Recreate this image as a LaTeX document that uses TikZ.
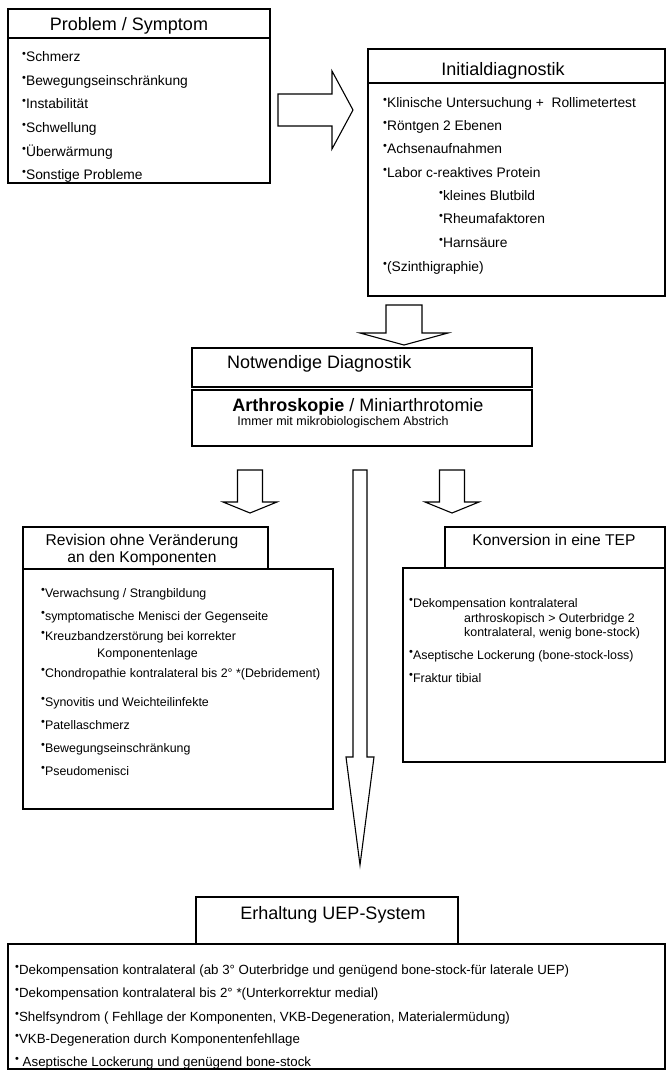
\documentclass[tikz,border=0pt]{standalone}
\usepackage{fontspec}
\setmainfont{Liberation Sans}
\newcommand{\bu}{\raisebox{.28em}{\fontsize{11}{11}\selectfont •}}
\begin{document}
\begin{tikzpicture}[x=1pt,y=-1pt,
 box/.style={draw, line width=1.1pt, anchor=north west, inner sep=0pt, outer sep=0pt},
 barrow/.style={draw, line width=1.1pt, fill=white, line join=miter},
 ttl/.style={inner sep=0pt, anchor=base, font=\fontsize{18}{20}\selectfont},
 subt/.style={inner sep=0pt, anchor=base, font=\fontsize{15.6}{17}\selectfont},
 li/.style={inner sep=0pt, anchor=base west, font=\fontsize{13.8}{15}\selectfont},
 ls/.style={inner sep=0pt, anchor=base west, font=\fontsize{12.4}{14}\selectfont},
 lb/.style={inner sep=0pt, anchor=base west, font=\fontsize{13.3}{15}\selectfont}]
\useasboundingbox (0,0) rectangle (666,1071);

% ---- Problem / Symptom
\node[box, minimum width=262pt, minimum height=29pt] (probh) at (8,9) {};
\node[box, minimum width=262pt, minimum height=145pt] (probb) at (8,38) {};
\node[ttl] (probt) at (129,30) {Problem / Symptom};
\node[li] (p1) at (22,61.5) {\bu Schmerz};
\node[li] (p2) at (22,85.5) {\bu Bewegungseinschränkung};
\node[li] (p3) at (22,108.5) {\bu Instabilität};
\node[li] (p4) at (22,132.5) {\bu Schwellung};
\node[li] (p5) at (22,156.5) {\bu Überwärmung};
\node[li] (p6) at (22,179.5) {\bu Sonstige Probleme};

% ---- arrow right
\draw[barrow] (278,94) -- (332,94) -- (332,71) -- (353,110) -- (332,149) -- (332,126) -- (278,126) -- cycle;

% ---- Initialdiagnostik
\node[box, minimum width=297pt, minimum height=34pt] (inih) at (368,49) {};
\node[box, minimum width=297pt, minimum height=213pt] (inib) at (368,83) {};
\node[ttl] (init) at (503,75) {Initialdiagnostik};
\node[li] (i1) at (383,107.5) {\bu Klinische Untersuchung +\ \ Rollimetertest};
\node[li] (i2) at (383,130.5) {\bu Röntgen 2 Ebenen};
\node[li] (i3) at (383,153.5) {\bu Achsenaufnahmen};
\node[li] (i4) at (383,177.5) {\bu Labor c-reaktives Protein};
\node[li] (i5) at (439,200.5) {\bu kleines Blutbild};
\node[li] (i6) at (439,223.5) {\bu Rheumafaktoren};
\node[li] (i7) at (439,247.5) {\bu Harnsäure};
\node[li] (i8) at (383,271.5) {\bu (Szinthigraphie)};

% ---- arrow down 1
\draw[barrow] (386,305) -- (422,305) -- (422,333) -- (448,333) -- (404,345) -- (360,333) -- (386,333) -- cycle;

% ---- Notwendige Diagnostik
\node[box, minimum width=340pt, minimum height=39pt] (noth) at (192,348) {};
\node[box, minimum width=340pt, minimum height=56pt] (notb) at (192,390) {};
\node[inner sep=0pt, anchor=base west, font=\fontsize{18}{20}\selectfont] (nott) at (227,368) {Notwendige Diagnostik};
\node[ttl] (arth) at (358,411) {\textbf{Arthroskopie} / Miniarthrotomie};
\node[inner sep=0pt, anchor=base, font=\fontsize{12.5}{14}\selectfont] (imm) at (343,425) {Immer mit mikrobiologischem Abstrich};

% ---- arrows down 2
\draw[barrow] (237.5,470) -- (262.5,470) -- (262.5,502) -- (277,502) -- (250,513) -- (223,502) -- (237.5,502) -- cycle;
\draw[barrow] (439.5,470) -- (464.5,470) -- (464.5,502) -- (479,502) -- (452,513) -- (425,502) -- (439.5,502) -- cycle;
\draw[barrow] (353,470) -- (367,470) -- (367,757) -- (374,757) -- (360,865) -- (346,757) -- (353,757) -- cycle;

% ---- Revision
\node[box, minimum width=245pt, minimum height=42pt] (revh) at (23,527) {};
\node[box, minimum width=310pt, minimum height=240pt] (revb) at (23,569) {};
\node[subt] (revt1) at (142,545.5) {Revision ohne Veränderung};
\node[subt] (revt2) at (142,562.5) {an den Komponenten};
\node[ls] (r1) at (41,597) {\bu Verwachsung / Strangbildung};
\node[ls] (r2) at (41,620) {\bu symptomatische Menisci der Gegenseite};
\node[ls] (r3) at (41,640) {\bu Kreuzbandzerstörung bei korrekter};
\node[ls] (r3b) at (97,657) {Komponentenlage};
\node[ls] (r4) at (41,677) {\bu Chondropathie kontralateral bis 2° *(Debridement)};
\node[ls] (r5) at (41,706) {\bu Synovitis und Weichteilinfekte};
\node[ls] (r6) at (41,729) {\bu Patellaschmerz};
\node[ls] (r7) at (41,752) {\bu Bewegungseinschränkung};
\node[ls] (r8) at (41,775) {\bu Pseudomenisci};

% ---- Konversion
\node[box, minimum width=220pt, minimum height=41pt] (konh) at (445,527) {};
\node[box, minimum width=262pt, minimum height=194pt] (konb) at (403,568) {};
\node[subt] (kont) at (554,545.5) {Konversion in eine TEP};
\node[ls] (k1) at (409,607) {\bu Dekompensation kontralateral};
\node[ls] (k1b) at (464,622) {arthroskopisch > Outerbridge 2};
\node[ls] (k1c) at (464,636) {kontralateral, wenig bone-stock)};
\node[ls] (k2) at (409,659) {\bu Aseptische Lockerung (bone-stock-loss)};
\node[ls] (k3) at (409,682) {\bu Fraktur tibial};

% ---- Erhaltung
\node[box, minimum width=262pt, minimum height=47pt] (erhh) at (196,897) {};
\node[box, minimum width=657pt, minimum height=125pt] (erhb) at (8,944) {};
\node[ttl] (erht) at (333,919) {Erhaltung UEP-System};
\node[lb] (e1) at (15,974) {\bu Dekompensation kontralateral (ab 3° Outerbridge und genügend bone-stock-für laterale UEP)};
\node[lb] (e2) at (15,997) {\bu Dekompensation kontralateral bis 2° *(Unterkorrektur medial)};
\node[lb] (e3) at (15,1021) {\bu Shelfsyndrom ( Fehllage der Komponenten, VKB-Degeneration, Materialermüdung)};
\node[lb] (e4) at (15,1043) {\bu VKB-Degeneration durch Komponentenfehllage};
\node[lb] (e5) at (15,1066) {\bu\ Aseptische Lockerung und genügend bone-stock};
\end{tikzpicture}
\end{document}
